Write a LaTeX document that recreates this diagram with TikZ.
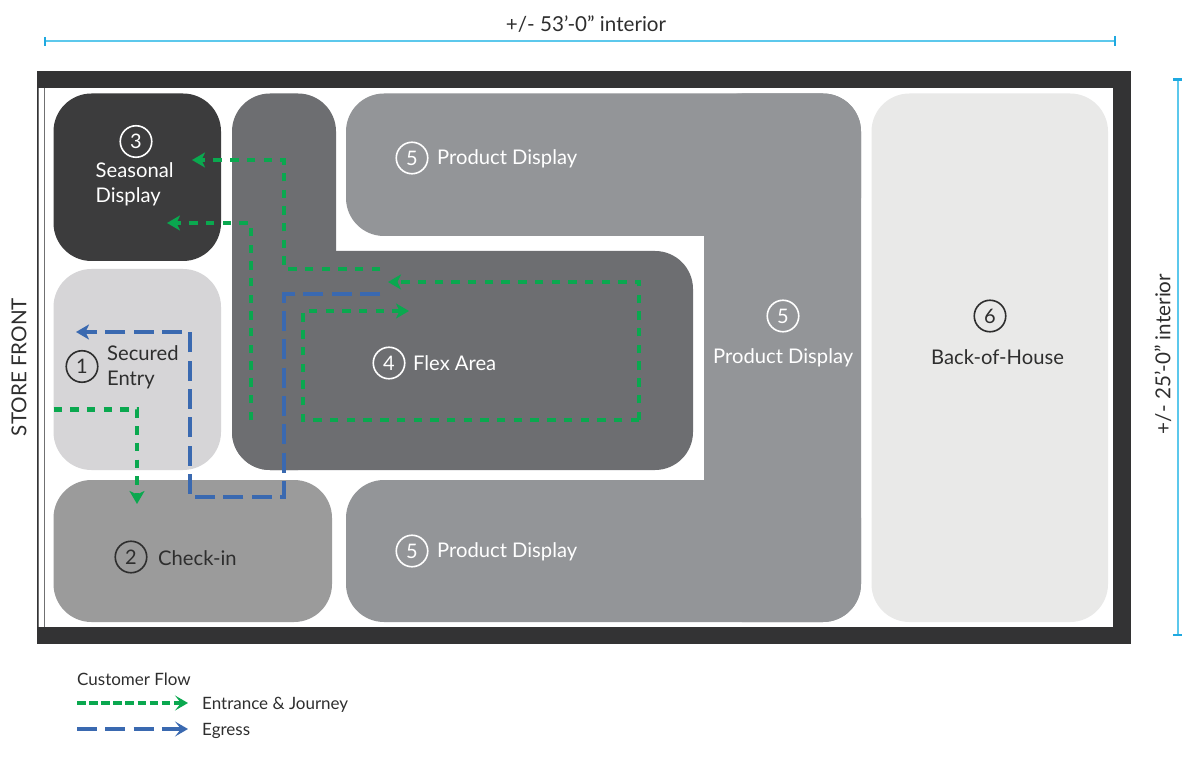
\documentclass[tikz,border=0pt]{standalone}
\usepackage{fontspec}
\setmainfont{Lato}
\usetikzlibrary{arrows.meta}
\definecolor{wallc}{HTML}{333334}
\definecolor{seasonc}{HTML}{3C3C3D}
\definecolor{entryc}{HTML}{D6D5D7}
\definecolor{checkc}{HTML}{9B9B9B}
\definecolor{flexc}{HTML}{6D6E71}
\definecolor{prodc}{HTML}{939598}
\definecolor{backc}{HTML}{E9E9E8}
\definecolor{greenflow}{HTML}{0AA84F}
\definecolor{blueflow}{HTML}{3A69B0}
\definecolor{dimc}{HTML}{5CC8EC}
\definecolor{dimtick}{HTML}{1FA9E0}
\definecolor{inkc}{HTML}{2E2E2E}
\tikzset{
  room/.style={rounded corners=38pt,draw=none},
  greenpath/.style={draw=greenflow,line width=4.6pt,dash pattern=on 8.4pt off 8.3pt},
  greenlegend/.style={draw=greenflow,line width=4.6pt,dash pattern=on 8.5pt off 3.6pt},
  bluepath/.style={draw=blueflow,line width=4.4pt,dash pattern=on 20pt off 8.3pt},
  ghead/.style={-{Stealth[length=13pt,width=15pt,inset=3.5pt]}},
  lhead/.style={-{Stealth[length=13pt,width=15pt,inset=6pt]}},
  numw/.style={circle,draw=white,line width=1.6pt,minimum size=31.5pt,inner sep=0pt,text=white,font=\fontsize{20}{20}\selectfont},
  numk/.style={circle,draw=inkc,line width=1.6pt,minimum size=31.5pt,inner sep=0pt,text=inkc,font=\fontsize{20}{20}\selectfont},
  labw/.style={text=white,anchor=west,inner sep=0pt,align=left,font=\fontsize{20.2}{25}\selectfont},
  labk/.style={text=inkc,anchor=west,inner sep=0pt,align=left,font=\fontsize{20.2}{25}\selectfont},
  small/.style={text=inkc,anchor=west,inner sep=0pt,font=\fontsize{17}{18}\selectfont},
  dimtext/.style={text=inkc,inner sep=0pt,font=\fontsize{20.6}{21}\selectfont}
}
\begin{document}
\begin{tikzpicture}[x=1pt,y=-1pt]
\useasboundingbox (0,0) rectangle (1200,767);
% walls
\fill[wallc] (37,71) rectangle (1131,644);
\fill[white] (37.5,88) rectangle (1113,627);
\draw[wallc!70,line width=0.9pt] (38,88) -- (38,627) (44.5,88) -- (44.5,627);
% rooms
\fill[seasonc,room] (53.5,93.5) rectangle (221,261);
\fill[entryc,room] (53.5,269) rectangle (221,470);
\fill[checkc,room] (53.5,480) rectangle (332,622);
\fill[flexc,room] (232,93.5) rectangle (336,470);
\fill[flexc,room] (232,251) rectangle (693,470);
\fill[prodc,room] (346,93.5) rectangle (861,236);
\fill[prodc,room] (704,93.5) rectangle (861,622);
\fill[prodc,room] (346,480) rectangle (861,622);
\fill[backc,room] (871.5,93.5) rectangle (1108,622);
% flows
\coordinate (a1) at (53.5,409.5);
\coordinate (a2) at (137,409.5);
\coordinate (a3) at (137,504);
\draw[greenpath,ghead] (a1) -- (a2) -- (a3);
\coordinate (b1) at (380,269);
\coordinate (b2) at (284,269);
\coordinate (b3) at (284,160);
\coordinate (b4) at (192,160);
\draw[greenpath,ghead] (b1) -- (b2) -- (b3) -- (b4);
\coordinate (c1) at (251,420);
\coordinate (c2) at (251,223);
\coordinate (c3) at (167,223);
\draw[greenpath,ghead] (c1) -- (c2) -- (c3);
\coordinate (d1) at (639,420);
\coordinate (d2) at (639,282);
\coordinate (d3) at (388,282);
\coordinate (d4) at (303,420);
\coordinate (d5) at (303,311);
\coordinate (d6) at (409,311);
\draw[greenpath,ghead] (d1) -- (d2) -- (d3);
\draw[greenpath,ghead] (d1) -- (d4) -- (d5) -- (d6);
\coordinate (e1) at (380,294);
\coordinate (e2) at (284,294);
\coordinate (e3) at (284,497);
\coordinate (e4) at (190,497);
\coordinate (e5) at (190,332);
\coordinate (e6) at (76,332);
\draw[bluepath,ghead] (e1) -- (e2) -- (e3) -- (e4) -- (e5) -- (e6);
% labels
\node[numw] (n3) at (136,141.5) {3};
\node[labw] (t3) at (95.5,184) {Seasonal\\Display};
\node[numk] (n1) at (82,366.5) {1};
\node[labk] (t1) at (107,367) {Secured\\Entry};
\node[numk] (n2) at (131,557) {2};
\node[labk] (t2) at (158,558) {Check-in};
\node[numw] (n4) at (389,363) {4};
\node[labw] (t4) at (413,363) {Flex Area};
\node[numw] (n5a) at (412,158) {5};
\node[labw] (t5a) at (437,159) {Product Display};
\node[numw] (n5b) at (783,316) {5};
\node[labw] (t5b) at (713,358) {Product Display};
\node[numw] (n5c) at (412,551) {5};
\node[labw] (t5c) at (437,552) {Product Display};
\node[numk] (n6) at (990,316) {6};
\node[labk] (t6) at (931,357) {Back-of-House};
\node[dimtext,rotate=90] (sf) at (19,367) {STORE FRONT};
% dimensions
\coordinate (h1) at (45,41);
\coordinate (h2) at (1115,41);
\draw[dimc,line width=1.8pt] (h1) -- (h2);
\draw[dimtick,line width=2.2pt] (45,37) -- (45,46) (1115,36) -- (1115,46);
\coordinate (v1) at (1178,79);
\coordinate (v2) at (1178,635);
\draw[dimc,line width=1.4pt] (v1) -- (v2);
\draw[dimtick,line width=2.2pt] (1173,79.5) -- (1182,79.5) (1173,635) -- (1182,635);
\node[dimtext] (dw) at (586,24.5) {+/- 53’-0” interior};
\node[dimtext,rotate=90] (dh) at (1163,354) {+/- 25’-0” interior};
% legend
\node[small] (lt) at (77,679.5) {Customer Flow};
\coordinate (l1) at (77,703);
\coordinate (l2) at (188,703);
\coordinate (l3) at (77,729);
\coordinate (l4) at (188,729);
\draw[greenlegend,lhead] (l1) -- (l2);
\draw[bluepath,lhead] (l3) -- (l4);
\node[small] (l5) at (202,705) {Entrance \& Journey};
\node[small] (l6) at (202,731) {Egress};
\end{tikzpicture}
\end{document}
